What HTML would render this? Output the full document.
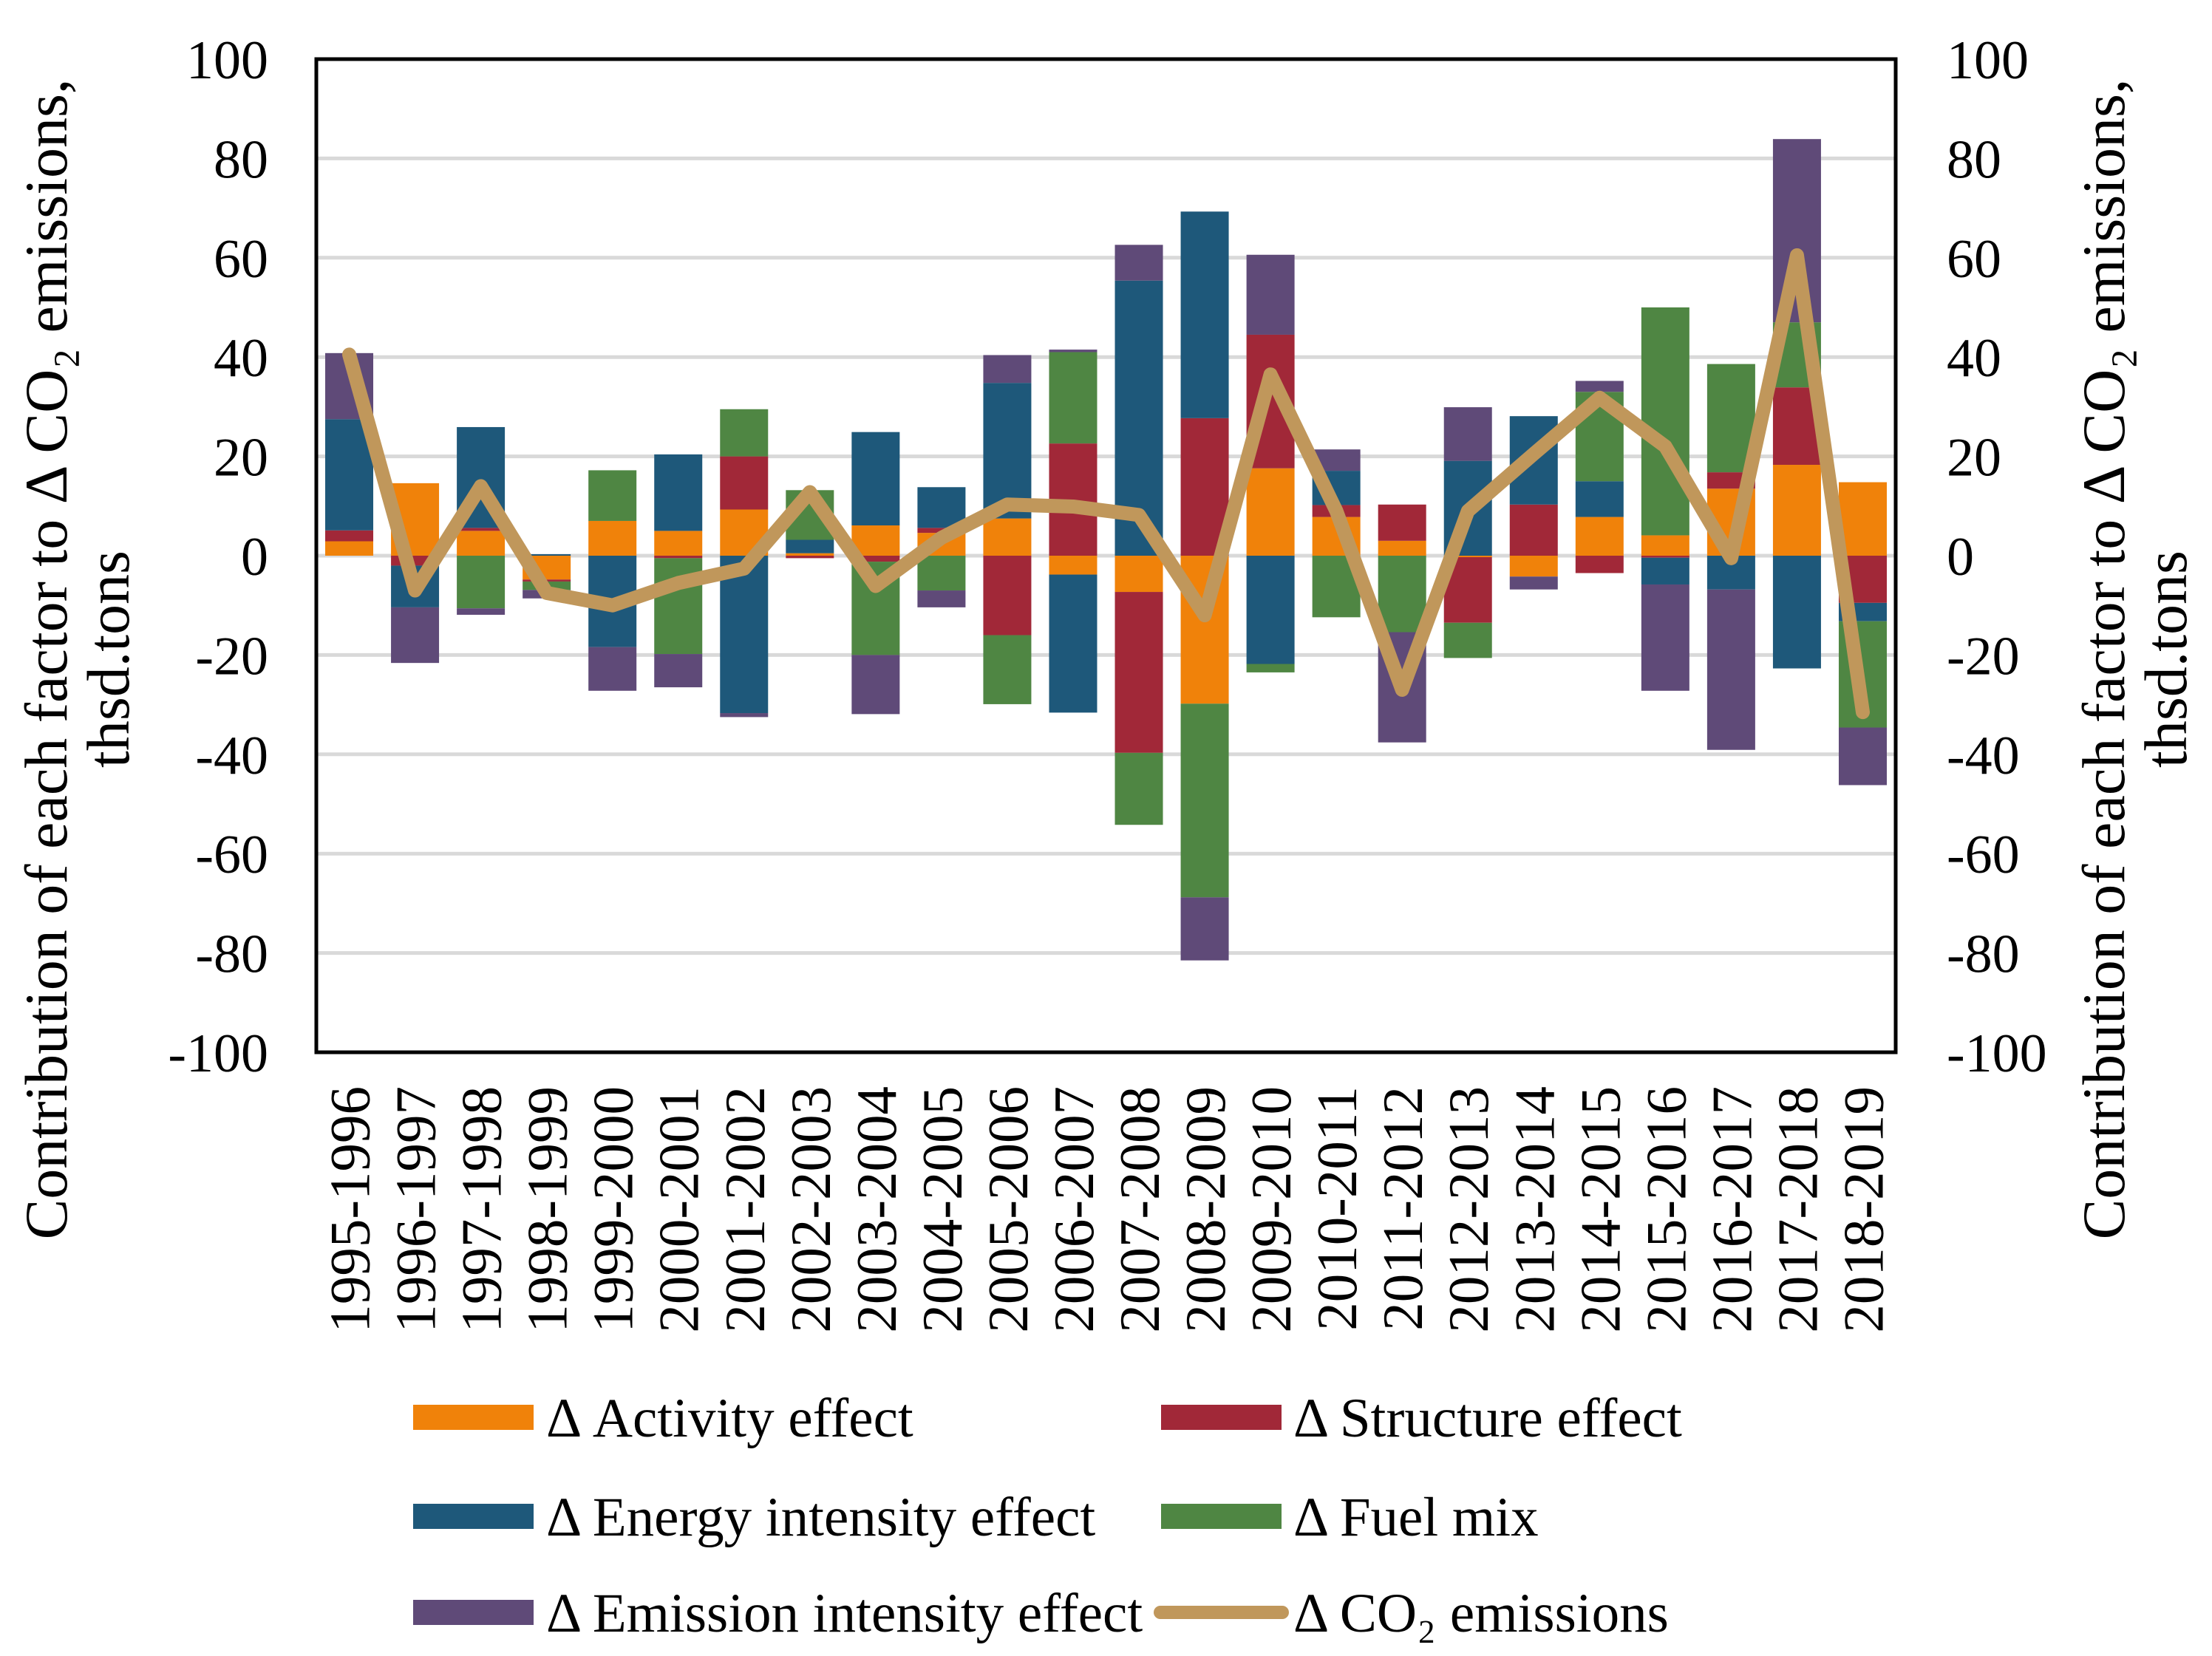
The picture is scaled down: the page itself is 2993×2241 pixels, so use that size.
<!DOCTYPE html>
<html><head><meta charset="utf-8"><style>
html,body{margin:0;padding:0;background:#fff;}
svg{display:block;font-family:"Liberation Serif",serif;}
</style></head><body>
<svg id="chart" width="2993" height="2241" viewBox="0 0 2993 2241" xmlns="http://www.w3.org/2000/svg">
<g id="grid"></g>
<g id="bars"></g>
<g id="line"></g>
<rect x="428" y="80" width="2137" height="1344" fill="none" stroke="#000" stroke-width="5"/>
<g id="yl"></g>
<g id="yr"></g>
<g id="xl"></g>
<text transform="translate(90,892) rotate(-90)" text-anchor="middle" font-size="82">Contribution of each factor to Δ CO₂ emissions,</text>
<text transform="translate(174,892) rotate(-90)" text-anchor="middle" font-size="82">thsd.tons</text>
<text transform="translate(2874,892) rotate(-90)" text-anchor="middle" font-size="82">Contribution of each factor to Δ CO₂ emissions,</text>
<text transform="translate(2958,892) rotate(-90)" text-anchor="middle" font-size="82">thsd.tons</text>
<g font-size="75">
<g><rect x="559" y="1901" width="163" height="34" fill="#F0820A"/><text x="739" y="1944">Δ Activity effect</text></g>
<g><rect x="1571" y="1901" width="163" height="34" fill="#A12838"/><text x="1750" y="1944">Δ Structure effect</text></g>
<g><rect x="559" y="2035" width="163" height="34" fill="#1E587A"/><text x="739" y="2078">Δ Energy intensity effect</text></g>
<g><rect x="1571" y="2035" width="163" height="34" fill="#4F8643"/><text x="1750" y="2078">Δ Fuel mix</text></g>
<g><rect x="559" y="2165" width="163" height="34" fill="#5F4A78"/><text x="739" y="2208">Δ Emission intensity effect</text></g>
<g><line x1="1570" y1="2182" x2="1735" y2="2182" stroke="#C0975B" stroke-width="18" stroke-linecap="round"/><text x="1750" y="2208">Δ CO₂ emissions</text></g>
</g>
</svg>
<script>
const categories=["1995-1996","1996-1997","1997-1998","1998-1999","1999-2000","2000-2001","2001-2002","2002-2003","2003-2004","2004-2005","2005-2006","2006-2007","2007-2008","2008-2009","2009-2010","2010-2011","2011-2012","2012-2013","2013-2014","2014-2015","2015-2016","2016-2017","2017-2018","2018-2019"];
const activity=[2.9,14.6,5,-4.8,7,5,9.3,0.5,6.1,4.6,7.5,-3.8,-7.3,-29.8,17.6,7.8,3,-0.3,-4.2,7.8,4.1,13.5,18.3,14.8];
const structure=[2.2,-2,0.6,-0.4,0,-0.5,10.7,-0.5,-1.2,1.0,-16,22.6,-32.4,27.7,26.9,2.4,7.3,-13.2,10.3,-3.5,-0.4,3.3,15.6,-9.5];
const energy=[22.4,-8.4,20.3,0.3,-18.4,15.4,-31.7,2.7,18.8,8.2,27.3,-27.8,55.4,41.6,-21.8,6.9,0,19.1,17.8,7.2,-5.4,-6.8,-22.7,-3.7];
const fuel=[0,0,-10.6,-1.7,10.2,-19.3,9.5,10,-18.8,-7,-13.9,18.4,-14.5,-39,-1.7,-12.4,-15.4,-7.1,0,18,45.9,21.8,13.1,-21.4];
const emission=[13.3,-11.2,-1.3,-1.7,-8.8,-6.7,-0.8,0,-11.9,-3.4,5.6,0.5,7.2,-12.7,16.1,4.3,-22.2,10.8,-2.6,2.2,-21.4,-32.3,36.9,-11.6];
const co2=[40.5,-7,14,-7.5,-10,-5.5,-2.6,12.8,-6.1,3.6,10.3,9.9,8.2,-12,36.5,9,-27,9,20.5,31.8,22,-0.5,60.5,-31.5];
const yTicks=[100,80,60,40,20,0,-20,-40,-60,-80,-100];

const NS="http://www.w3.org/2000/svg";
const X0=428,X1=2565,Y0=80,Y1=1424;
const band=(X1-X0)/categories.length;
const xc=i=>X0+band*(i+0.5);
const y=v=>Y0+(100-v)/200*(Y1-Y0);
function mk(tag,attrs,parent){const e=document.createElementNS(NS,tag);for(const k in attrs)e.setAttribute(k,attrs[k]);parent.appendChild(e);return e;}
const grid=document.getElementById('grid'),yl=document.getElementById('yl'),yr=document.getElementById('yr');
yTicks.forEach(t=>{
  const g=mk('line',{x1:X0,x2:X1,y1:y(t),y2:y(t),stroke:'#d9d9d9','stroke-width':5},grid);
  
  
  const a=mk('text',{x:363,y:y(t)+26,'text-anchor':'end','font-size':74},yl);a.textContent=t;
  
  
  const b=mk('text',{x:2634,y:y(t)+26,'text-anchor':'start','font-size':74},yr);b.textContent=t;
  
  
});
const series=[activity,structure,energy,fuel,emission];
const colors=["#F0820A","#A12838","#1E587A","#4F8643","#5F4A78"];
const names=["activity","structure","energy-intensity","fuel-mix","emission-intensity"];
const bars=document.getElementById('bars');
const bw=65;
categories.forEach((c,i)=>{
  let pos=0,neg=0;
  series.forEach((s,k)=>{
    const v=s[i];if(!v)return;
    let a,b;
    if(v>0){a=pos;b=pos+v;pos=b;}else{a=neg;b=neg+v;neg=b;}
    const r=mk('rect',{x:xc(i)-bw/2,y:Math.min(y(a),y(b)),width:bw,height:Math.abs(y(a)-y(b)),fill:colors[k]},bars);
    
    
  });
  const t=mk('text',{transform:`translate(${xc(i)+27},1470) rotate(-90)`,'text-anchor':'end','font-size':77},document.getElementById('xl'));
  t.textContent=c;
  
  
});
const pl=mk('polyline',{points:co2.map((v,i)=>xc(i)+','+y(v)).join(' '),fill:'none',stroke:'#C0975B','stroke-width':19,'stroke-linejoin':'round','stroke-linecap':'round'},document.getElementById('line'));


</script>
</body></html>
